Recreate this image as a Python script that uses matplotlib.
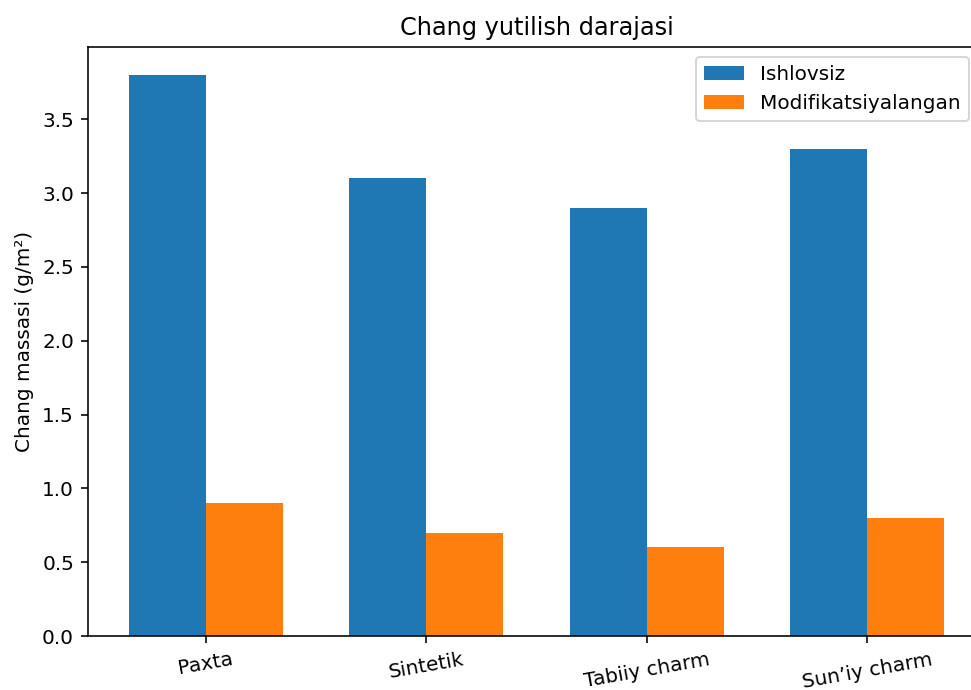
import matplotlib
matplotlib.use("Agg")
import matplotlib.pyplot as plt
import numpy as np

categories = ["Paxta", "Sintetik", "Tabiiy charm", "Sun\u2019iy charm"]
ishlovsiz = [3.8, 3.1, 2.9, 3.3]
modifikatsiyalangan = [0.9, 0.7, 0.6, 0.8]

DPI = 144
W, H = 971, 690
fig = plt.figure(figsize=(W / DPI, H / DPI), dpi=DPI)
ax = fig.add_axes([88 / W, (H - 636) / H, (985 - 88) / W, (636 - 47) / H])

x = np.arange(len(categories))
w = 0.35
ax.bar(x - w / 2, ishlovsiz, w, label="Ishlovsiz", color="#1f77b4")
ax.bar(x + w / 2, modifikatsiyalangan, w, label="Modifikatsiyalangan", color="#ff7f0e")

ax.set_xticks(x)
ax.set_xticklabels(categories, rotation=10)
ax.set_ylabel("Chang massasi (g/m\u00b2)")
ax.set_title("Chang yutilish darajasi")
ax.legend(loc="upper right", bbox_to_anchor=(969 / W, (H - 57) / H),
          bbox_transform=fig.transFigure, borderaxespad=0)

fig.savefig("out.png", dpi=DPI)
